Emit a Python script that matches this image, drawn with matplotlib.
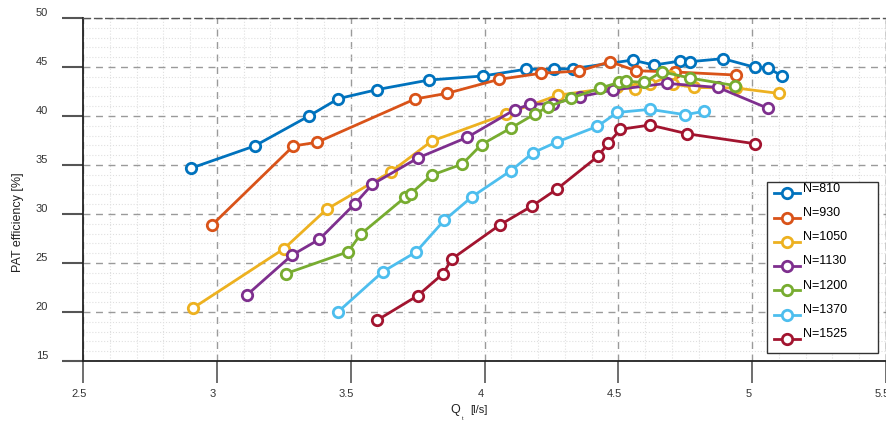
import matplotlib
matplotlib.use("Agg")
import matplotlib.pyplot as plt
from matplotlib.ticker import MultipleLocator
from matplotlib.transforms import ScaledTranslation

plt.rcParams['font.family'] = ['Liberation Sans', 'DejaVu Sans']

# ---- data ----
q_810 = [2.902, 3.141, 3.344, 3.454, 3.600, 3.792, 3.993, 4.154, 4.259, 4.330,
         4.553, 4.633, 4.729, 4.767, 4.891, 5.010, 5.059, 5.110]
e_810 = [34.66, 36.94, 40.00, 41.77, 42.70, 43.67, 44.08, 44.77, 44.77, 44.83,
         45.71, 45.20, 45.60, 45.54, 45.85, 44.97, 44.90, 44.11]

q_930 = [2.981, 3.286, 3.375, 3.740, 3.861, 4.054, 4.211, 4.354, 4.469, 4.566,
         4.713, 4.939]
e_930 = [28.85, 36.94, 37.32, 41.73, 42.32, 43.74, 44.36, 44.59, 45.54, 44.62,
         44.49, 44.18]

q_1050 = [2.910, 3.251, 3.410, 3.651, 3.802, 4.080, 4.273, 4.494, 4.563, 4.618,
          4.693, 4.705, 4.782, 4.939, 5.101]
e_1050 = [20.38, 26.46, 30.48, 34.32, 37.43, 40.20, 42.11, 42.96, 42.79, 43.23,
          44.13, 43.27, 42.91, 42.86, 42.30]

q_1130 = [3.111, 3.280, 3.383, 3.516, 3.581, 3.753, 3.936, 4.114, 4.170, 4.257,
          4.357, 4.479, 4.680, 4.873, 5.060]
e_1130 = [21.70, 25.79, 27.42, 31.05, 33.03, 35.74, 37.83, 40.66, 41.19, 41.26,
          41.97, 42.65, 43.33, 42.91, 40.77]

q_1200 = [3.257, 3.491, 3.537, 3.703, 3.724, 3.803, 3.917, 3.989, 4.098, 4.188,
          4.238, 4.323, 4.431, 4.503, 4.529, 4.596, 4.662, 4.767, 4.936]
e_1200 = [23.91, 26.15, 27.93, 31.70, 32.07, 33.96, 35.10, 37.09, 38.76, 40.20,
          40.95, 41.81, 42.83, 43.44, 43.55, 43.42, 44.52, 43.88, 43.10]

q_1370 = [3.451, 3.620, 3.744, 3.849, 3.954, 4.098, 4.182, 4.269, 4.422, 4.496,
          4.618, 4.750, 4.820]
e_1370 = [19.97, 24.11, 26.12, 29.34, 31.77, 34.41, 36.26, 37.33, 38.95, 40.36,
          40.68, 40.13, 40.48]

q_1525 = [3.598, 3.750, 3.845, 3.878, 4.058, 4.178, 4.270, 4.423, 4.462, 4.508,
          4.618, 4.757, 5.010]
e_1525 = [19.15, 21.66, 23.91, 25.41, 28.90, 30.82, 32.53, 35.87, 37.21, 38.64,
          39.08, 38.19, 37.17]

labels = ['N=810', 'N=930', 'N=1050', 'N=1130', 'N=1200', 'N=1370', 'N=1525']
series_q = [q_810, q_930, q_1050, q_1130, q_1200, q_1370, q_1525]
series_e = [e_810, e_930, e_1050, e_1130, e_1200, e_1370, e_1525]
colors = ['#0072BD', '#D95319', '#EDB120', '#7E2F8E', '#77AC30', '#4DBEEE', '#A2142F']

x_ticks = [2.5, 3, 3.5, 4, 4.5, 5, 5.5]
x_tick_labels = ['2.5', '3', '3.5', '4', '4.5', '5', '5.5']
y_ticks = [15, 20, 25, 30, 35, 40, 45, 50]

# ---- figure ----
fig = plt.figure(figsize=(8.87, 4.23), dpi=100)
ax = fig.add_axes([83/887, 62/423, 803/887, 343/423])

for q, e, lab, c in zip(series_q, series_e, labels, colors):
    ax.plot(q, e, '-o', color=c, lw=2.0, ms=7.5, mew=2.0, mfc='white',
            mec=c, label=lab, zorder=3, clip_on=False)

ax.set_xlim(2.5, 5.5)
ax.set_ylim(15, 50)
ax.set_xticks(x_ticks)
ax.set_xticklabels(x_tick_labels)
ax.set_yticks(y_ticks)
ax.xaxis.set_minor_locator(MultipleLocator(0.1))
ax.yaxis.set_minor_locator(MultipleLocator(1))

ax.grid(which='major', ls=(0, (5, 4)), color='#9a9a9a', lw=1.0, zorder=0)
ax.grid(which='minor', ls=':', color='#e0e0e0', lw=0.8, zorder=0)
ax.set_axisbelow(True)

ax.tick_params(axis='both', which='minor', length=0)
ax.tick_params(axis='x', which='major', direction='out', length=16, width=1.2,
               color='#555555', labelsize=8, pad=4, labelcolor='#333333')
ax.tick_params(axis='y', which='major', direction='out', length=15, width=1.5,
               color='#555555', labelsize=8, pad=10, labelcolor='#333333')

for sp in ['left', 'bottom']:
    ax.spines[sp].set_color('#222222')
    ax.spines[sp].set_linewidth(1.3)
for sp in ['top', 'right']:
    ax.spines[sp].set_color('#555555')
    ax.spines[sp].set_linewidth(1.0)
    ax.spines[sp].set_linestyle((0, (5, 3)))

for lbl in ax.get_yticklabels():
    lbl.set_transform(lbl.get_transform() + ScaledTranslation(0, 6/100, fig.dpi_scale_trans))
for lbl in ax.get_xticklabels():
    lbl.set_transform(lbl.get_transform() + ScaledTranslation(-4/100, 0, fig.dpi_scale_trans))

ax.set_ylabel('PAT efficiency [%]', fontsize=9, color='#222222')
ax.yaxis.set_label_coords(-0.0735, 0.405)

fig.text(455/887, 1 - 410/423, 'Q', fontsize=9, ha='center', va='center', color='#222222')
fig.text(463/887, 1 - 418/423, 't', fontsize=4, ha='center', va='center', color='#222222')
fig.text(479/887, 1 - 410/423, '[l/s]', fontsize=8, ha='center', va='center', color='#222222')

leg = ax.legend(loc='lower left',
                bbox_to_anchor=(767/887, (423-353)/423, 111/887, 176/423),
                bbox_transform=fig.transFigure, mode='expand',
                fontsize=9, frameon=True,
                fancybox=False, edgecolor='#333333', framealpha=1,
                handlelength=2.1, handletextpad=0.2, labelspacing=0.98,
                borderpad=0.55, borderaxespad=0)
leg.get_frame().set_linewidth(1.0)
for t in leg.get_texts():
    t.set_position((0, 6))

fig.savefig('out.png', dpi=100)
